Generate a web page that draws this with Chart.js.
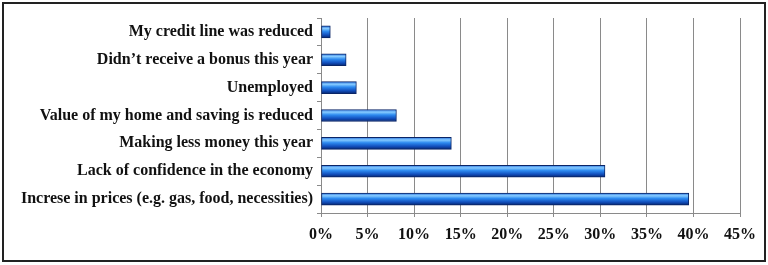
<!DOCTYPE html>
<html>
<head>
<meta charset="utf-8">
<script src="https://cdn.jsdelivr.net/npm/chart.js@4/dist/chart.umd.min.js"></script>
<style>
  html, body { margin: 0; padding: 0; background: #fff; }
  #wrap { width: 768px; height: 265px; }
</style>
</head>
<body>
<div id="wrap"><canvas id="c" width="768" height="265"></canvas></div>
<script>
// Reasons for cutting back spending (% of respondents)
const reasons = [
  'My credit line was reduced',
  'Didn\u2019t receive a bonus this year',
  'Unemployed',
  'Value of my home and saving is reduced',
  'Making less money this year',
  'Lack of confidence in the economy',
  'Increse in prices (e.g. gas, food, necessities)',
];
const shares = [1.0, 2.7, 3.8, 8.1, 14.0, 30.5, 39.5];
const xTicks = [0, 5, 10, 15, 20, 25, 30, 35, 40, 45];

const FONT = { family: '"Liberation Serif", "Times New Roman", serif', size: 16, weight: 'bold' };
const BAR_H = 12;

// vertical "tube" gradient for each bar
function tube(ctx) {
  const chart = ctx.chart;
  const y = chart.scales.y;
  if (!chart.chartArea || !y) return '#1f6fe0';
  const mid = y.getPixelForValue(ctx.dataIndex);
  const g = chart.ctx.createLinearGradient(0, mid - BAR_H / 2, 0, mid + BAR_H / 2);
  g.addColorStop(0, '#2a72e0');
  g.addColorStop(0.22, '#86cbff');
  g.addColorStop(0.45, '#2d8af0');
  g.addColorStop(0.75, '#124fbd');
  g.addColorStop(1, '#06256e');
  return g;
}

const frame = {
  id: 'frame',
  afterDraw(chart) {
    const c = chart.ctx;
    c.save();
    c.strokeStyle = '#222';
    c.lineWidth = 2;
    c.strokeRect(3, 3, 762, 258);
    c.restore();
  },
};

new Chart(document.getElementById('c'), {
  type: 'bar',
  data: {
    labels: reasons,
    datasets: [{
      data: shares,
      backgroundColor: tube,
      borderColor: '#0a2566',
      borderWidth: 1,
      borderSkipped: false,
      barThickness: BAR_H,
    }],
  },
  options: {
    indexAxis: 'y',
    responsive: false,
    animation: false,
    layout: { padding: { top: 18, right: 28, bottom: 0, left: 0 } },
    plugins: { legend: { display: false }, tooltip: { enabled: false } },
    scales: {
      x: {
        min: 0, max: 45,
        afterBuildTicks: s => { s.ticks = xTicks.map(v => ({ value: v })); },
        afterFit: s => { s.height = 52; },
        grid: { color: '#8a8a8a', lineWidth: 1, tickLength: 4 },
        border: { color: '#8a8a8a' },
        ticks: { color: '#111', font: FONT, padding: 8, maxRotation: 0,
                 callback: v => v + '%' },
      },
      y: {
        afterFit: s => { s.width = 321; },
        grid: { display: true, drawOnChartArea: false, color: '#8a8a8a', tickLength: 4 },
        border: { color: '#8a8a8a' },
        ticks: { color: '#111', font: FONT, padding: 4 },
      },
    },
  },
  plugins: [frame],
});
</script>
</body>
</html>
